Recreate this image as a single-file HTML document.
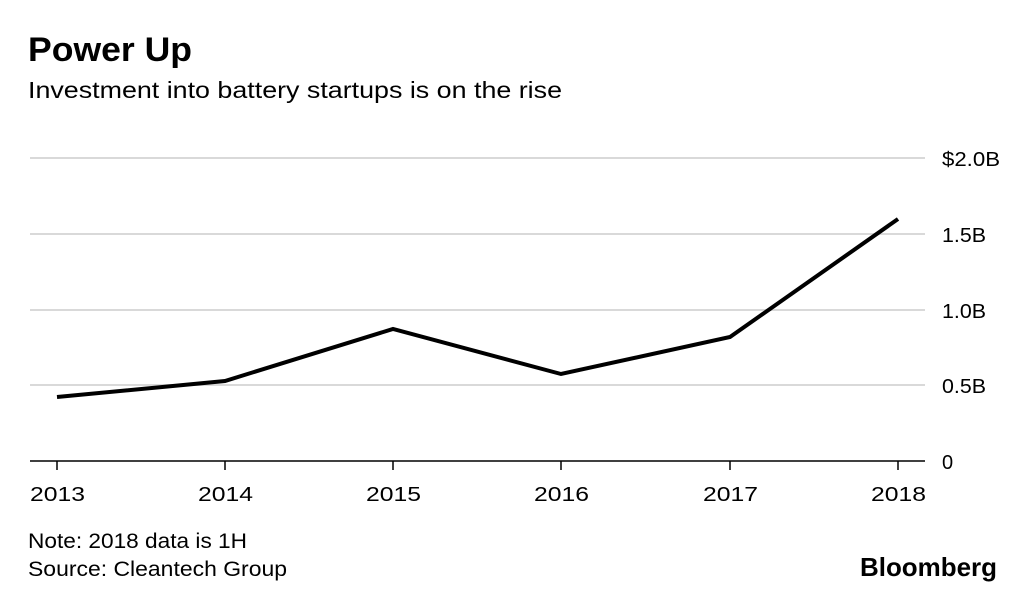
<!DOCTYPE html>
<html><head><meta charset="utf-8"><style>
body{margin:0;background:#fff;width:1024px;height:594px;overflow:hidden;font-family:"Liberation Sans",sans-serif;}
</style></head><body>
<svg width="1024" height="594" xmlns="http://www.w3.org/2000/svg" font-family="Liberation Sans, sans-serif">
<text x="28" y="61" font-size="34" font-weight="bold" fill="#000" textLength="164" lengthAdjust="spacingAndGlyphs">Power Up</text>
<text x="28" y="98" font-size="23" fill="#000" textLength="534" lengthAdjust="spacingAndGlyphs">Investment into battery startups is on the rise</text>
<g stroke="#d9d9d9" stroke-width="2">
<line x1="30" y1="158" x2="925" y2="158"/>
<line x1="30" y1="234" x2="925" y2="234"/>
<line x1="30" y1="310" x2="925" y2="310"/>
<line x1="30" y1="385" x2="925" y2="385"/>
</g>
<line x1="30" y1="461" x2="925" y2="461" stroke="#000" stroke-width="1.5"/>
<g stroke="#000" stroke-width="1.5">
<line x1="57" y1="461" x2="57" y2="470"/><line x1="225" y1="461" x2="225" y2="470"/>
<line x1="393" y1="461" x2="393" y2="470"/><line x1="561" y1="461" x2="561" y2="470"/>
<line x1="730" y1="461" x2="730" y2="470"/><line x1="898" y1="461" x2="898" y2="470"/>
</g>
<g font-size="20" fill="#000" lengthAdjust="spacingAndGlyphs">
<text x="942" y="166" textLength="58" lengthAdjust="spacingAndGlyphs">$2.0B</text>
<text x="942" y="242" textLength="44" lengthAdjust="spacingAndGlyphs">1.5B</text>
<text x="942" y="318" textLength="44" lengthAdjust="spacingAndGlyphs">1.0B</text>
<text x="942" y="393" textLength="44" lengthAdjust="spacingAndGlyphs">0.5B</text>
<text x="942" y="469">0</text>
</g>
<g font-size="20" fill="#000">
<text x="30" y="501" textLength="55" lengthAdjust="spacingAndGlyphs">2013</text>
<text x="198" y="501" textLength="55" lengthAdjust="spacingAndGlyphs">2014</text>
<text x="366" y="501" textLength="55" lengthAdjust="spacingAndGlyphs">2015</text>
<text x="534" y="501" textLength="55" lengthAdjust="spacingAndGlyphs">2016</text>
<text x="703" y="501" textLength="55" lengthAdjust="spacingAndGlyphs">2017</text>
<text x="871" y="501" textLength="55" lengthAdjust="spacingAndGlyphs">2018</text>
</g>
<polyline points="57,397 225,381 393,329 561,374 730,337 898,219" fill="none" stroke="#000" stroke-width="4" stroke-linejoin="miter"/>
<text x="28" y="548" font-size="21" fill="#000" textLength="219" lengthAdjust="spacingAndGlyphs">Note: 2018 data is 1H</text>
<text x="28" y="576" font-size="21" fill="#000" textLength="259" lengthAdjust="spacingAndGlyphs">Source: Cleantech Group</text>
<text x="860" y="576" font-size="26" font-weight="bold" fill="#000" textLength="137" lengthAdjust="spacingAndGlyphs">Bloomberg</text>
</svg>
</body></html>
